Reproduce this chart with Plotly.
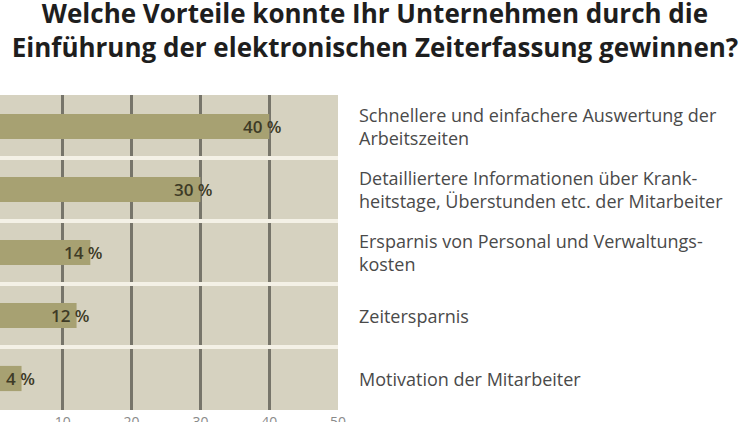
import plotly.graph_objects as go

## Data

categories = ["Schnellere und einfachere Auswertung der<br>Arbeitszeiten",
              "Detailliertere Informationen über Krank-<br>heitstage, Überstunden etc. der Mitarbeiter",
              "Ersparnis von Personal und Verwaltungs-<br>kosten",
              "Zeitersparnis",
              "Motivation der Mitarbeiter"]
values = [40, 30, 14, 12, 4]
tick_values = [10, 20, 30, 40, 50]
tick_labels = ["10", "20", "30", "40", "50"]

bar_color = "#a7a172"
plot_bg = "#d6d2c0"
positions = list(range(len(categories)))

## Plotting

fig = go.Figure()
fig.add_trace(go.Bar(x=values,
                     y=positions,
                     orientation="h",
                     marker_color=bar_color,
                     marker_line_width=0,
                     width=0.4,
                     hoverinfo="skip"))

# value labels at the end of each bar
for v, p in zip(values, positions):
    fig.add_annotation(x=v, y=p, text="{} %".format(v), showarrow=False,
                       xanchor="right", xshift=15,
                       font=dict(family="Open Sans", size=17, color="#3e3b26",
                                 weight=600))

# category labels right of the plot
for c, p in zip(categories, positions):
    fig.add_annotation(x=1, xref="paper", y=p, text=c, showarrow=False,
                       xanchor="left", xshift=19, align="left",
                       font=dict(family="Open Sans", size=18, color="#4a4a4a"))

fig.update_xaxes(range=[0.87, 50], tickvals=tick_values, ticktext=tick_labels,
                 showgrid=True, gridcolor="#77756a", gridwidth=2.5,
                 zeroline=False, ticks="", showline=False, automargin=False,
                 ticklabelstandoff=2,
                 tickfont=dict(family="Open Sans", size=14, color="#8a8a8a"))
fig.update_yaxes(range=[4.5, -0.5], tickvals=[0.5, 1.5, 2.5, 3.5],
                 showticklabels=False, showgrid=True, gridcolor="#f4f1e6",
                 gridwidth=4, zeroline=False, ticks="", automargin=False)

fig.update_layout(title=dict(text="Welche Vorteile konnte Ihr Unternehmen durch die<br>"
                                  "Einführung der elektronischen Zeiterfassung gewinnen?",
                             x=0.5, xanchor="center", y=0.945, yanchor="top",
                             font=dict(family="Open Sans", size=26, color="#1e1e1e",
                                       weight="bold")),
                  width=750, height=422,
                  margin=dict(l=0, r=412, t=95, b=12),
                  plot_bgcolor=plot_bg, paper_bgcolor="white",
                  showlegend=False, bargap=0.6)

# page has a default body margin; drop it so the chart sits at the window edge
fig.write_html("out.html", config={"displayModeBar": False},
               post_script="document.body.style.margin='0';")
